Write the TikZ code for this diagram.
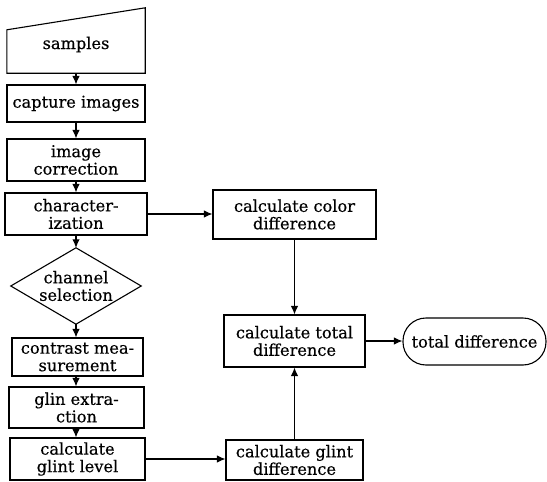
\documentclass[tikz,border=0pt]{standalone}
\usepackage{fontspec}
\setmainfont[FakeBold=0.4]{DejaVu Serif}
\usetikzlibrary{arrows.meta,calc}
\tikzset{
  txt/.style={inner sep=0pt, align=center, font=\fontsize{16.2}{17.5}\selectfont},
  box/.style={txt, draw, line width=1.1pt, rectangle},
  conn/.style={line width=1.1pt, -{Latex[length=8.5pt,width=7.5pt]}},
}
\begin{document}
\begin{tikzpicture}[x=1pt,y=-1pt]
\useasboundingbox (0,0) rectangle (547,482);
% samples (manual input shape)
\node[txt, minimum width=138pt, minimum height=65pt] (samples) at (76,40.5) {\raisebox{-8.5pt}[0pt][0pt]{samples}};
\draw[line width=1.1pt] (samples.south west) -- (samples.south east) -- (samples.north east) -- ($(samples.north west)+(0,22)$) -- cycle;
\node[box, minimum width=138pt, minimum height=37pt] (capture) at (76,103.5) {capture images};
\node[box, minimum width=138pt, minimum height=42pt] (corr) at (76,160) {image\\correction};
\node[box, minimum width=142pt, minimum height=42pt] (charac) at (76,214) {character-\\ization};
% channel selection (diamond)
\node[txt, minimum width=130pt, minimum height=76pt] (chan) at (76,286) {channel\\selection};
\draw[line width=1.1pt] (chan.north) -- (chan.east) -- (chan.south) -- (chan.west) -- cycle;
\node[box, minimum width=131pt, minimum height=38pt] (contrast) at (77.5,357) {contrast mea-\\surement};
\node[box, minimum width=135pt, minimum height=41pt] (glin) at (76.5,407.5) {glin extra-\\ction};
\node[box, minimum width=135pt, minimum height=42pt] (glevel) at (77.5,459) {calculate\\glint level};
\node[box, minimum width=163pt, minimum height=49pt] (colordiff) at (294.5,214.5) {calculate color\\difference};
\node[box, minimum width=141pt, minimum height=52pt] (totaldiff) at (294.5,341) {calculate total\\difference};
\node[box, minimum width=137pt, minimum height=40pt] (glintdiff) at (294.5,460) {calculate glint\\difference};
\node[box, minimum width=143pt, minimum height=47pt, rounded corners=23pt] (total) at (474.5,341.5) {total difference};
% connectors
\draw[conn] (samples) -- (capture);
\draw[conn] (capture) -- (corr);
\draw[conn] (corr) -- (charac);
\draw[conn] (charac) -- (chan.north);
\draw[conn] (chan.south) -- (contrast.north -| chan.south);
\draw[conn] (contrast.south -| chan.south) -- (glin.north -| chan.south);
\draw[conn] (glin.south -| chan.south) -- (glevel.north -| chan.south);
\draw[conn] (charac.east) -- (charac.east -| colordiff.west);
\draw[conn] (glevel.east) -- (glevel.east -| glintdiff.west);
\draw[conn] (colordiff) -- (totaldiff);
\draw[conn] (glintdiff) -- (totaldiff);
\draw[conn] (totaldiff.east) -- (totaldiff.east -| total.west);
\end{tikzpicture}
\end{document}
